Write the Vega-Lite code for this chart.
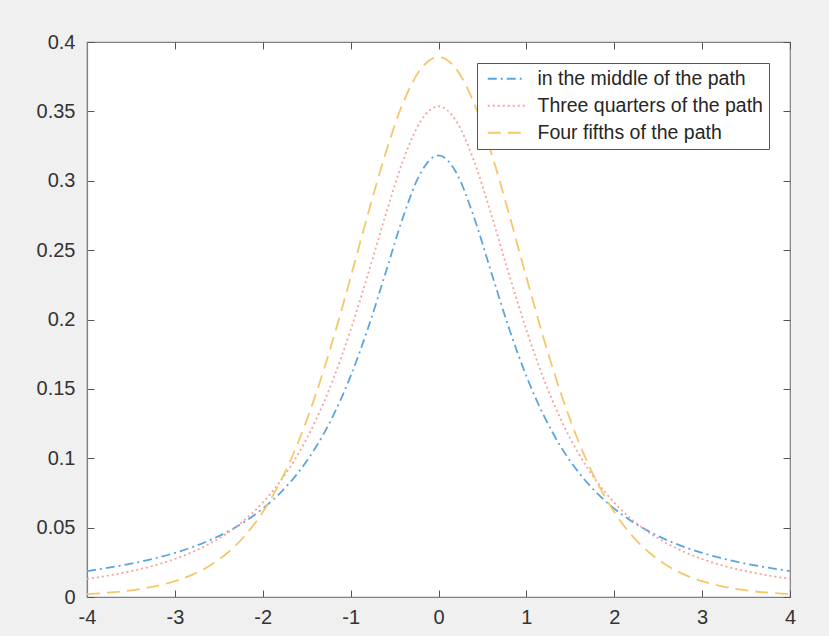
{
  "$schema": "https://vega.github.io/schema/vega-lite/v6.json",
  "width": 703,
  "height": 555,
  "autosize": "none",
  "padding": {"left": 87, "top": 42, "right": 39, "bottom": 39},
  "background": "#f0f0f0",
  "config": {
    "view": {"fill": "white", "stroke": "#808080", "strokeWidth": 1.2},
    "font": "Liberation Sans",
    "axis": {
      "labelFont": "Liberation Sans",
      "labelFontSize": 20,
      "labelColor": "#333333",
      "domainColor": "#808080",
      "domainWidth": 1.2,
      "tickColor": "#555555",
      "tickSize": -7,
      "tickWidth": 1,
      "grid": false,
      "title": null
    }
  },
  "datasets": {
    "curves": [
      {"x": -4.0, "middle": 0.0187, "three": 0.0131, "four": 0.0020},
      {"x": -3.8, "middle": 0.0206, "three": 0.0150, "four": 0.0029},
      {"x": -3.6, "middle": 0.0228, "three": 0.0173, "four": 0.0040},
      {"x": -3.4, "middle": 0.0253, "three": 0.0200, "four": 0.0057},
      {"x": -3.2, "middle": 0.0283, "three": 0.0233, "four": 0.0081},
      {"x": -3.0, "middle": 0.0318, "three": 0.0274, "four": 0.0114},
      {"x": -2.8, "middle": 0.0360, "three": 0.0324, "four": 0.0161},
      {"x": -2.6, "middle": 0.0410, "three": 0.0386, "four": 0.0227},
      {"x": -2.4, "middle": 0.0471, "three": 0.0462, "four": 0.0319},
      {"x": -2.2, "middle": 0.0545, "three": 0.0559, "four": 0.0444},
      {"x": -2.0, "middle": 0.0637, "three": 0.0680, "four": 0.0612},
      {"x": -1.8, "middle": 0.0751, "three": 0.0834, "four": 0.0831},
      {"x": -1.6, "middle": 0.0894, "three": 0.1027, "four": 0.1111},
      {"x": -1.4, "middle": 0.1075, "three": 0.1269, "four": 0.1454},
      {"x": -1.2, "middle": 0.1305, "three": 0.1567, "four": 0.1857},
      {"x": -1.0, "middle": 0.1592, "three": 0.1925, "four": 0.2304},
      {"x": -0.8, "middle": 0.1941, "three": 0.2331, "four": 0.2766},
      {"x": -0.6, "middle": 0.2341, "three": 0.2758, "four": 0.3203},
      {"x": -0.4, "middle": 0.2744, "three": 0.3150, "four": 0.3566},
      {"x": -0.2, "middle": 0.3061, "three": 0.3432, "four": 0.3807},
      {"x": 0.0, "middle": 0.3183, "three": 0.3536, "four": 0.3891},
      {"x": 0.2, "middle": 0.3061, "three": 0.3432, "four": 0.3807},
      {"x": 0.4, "middle": 0.2744, "three": 0.3150, "four": 0.3566},
      {"x": 0.6, "middle": 0.2341, "three": 0.2758, "four": 0.3203},
      {"x": 0.8, "middle": 0.1941, "three": 0.2331, "four": 0.2766},
      {"x": 1.0, "middle": 0.1592, "three": 0.1925, "four": 0.2304},
      {"x": 1.2, "middle": 0.1305, "three": 0.1567, "four": 0.1857},
      {"x": 1.4, "middle": 0.1075, "three": 0.1269, "four": 0.1454},
      {"x": 1.6, "middle": 0.0894, "three": 0.1027, "four": 0.1111},
      {"x": 1.8, "middle": 0.0751, "three": 0.0834, "four": 0.0831},
      {"x": 2.0, "middle": 0.0637, "three": 0.0680, "four": 0.0612},
      {"x": 2.2, "middle": 0.0545, "three": 0.0559, "four": 0.0444},
      {"x": 2.4, "middle": 0.0471, "three": 0.0462, "four": 0.0319},
      {"x": 2.6, "middle": 0.0410, "three": 0.0386, "four": 0.0227},
      {"x": 2.8, "middle": 0.0360, "three": 0.0324, "four": 0.0161},
      {"x": 3.0, "middle": 0.0318, "three": 0.0274, "four": 0.0114},
      {"x": 3.2, "middle": 0.0283, "three": 0.0233, "four": 0.0081},
      {"x": 3.4, "middle": 0.0253, "three": 0.0200, "four": 0.0057},
      {"x": 3.6, "middle": 0.0228, "three": 0.0173, "four": 0.0040},
      {"x": 3.8, "middle": 0.0206, "three": 0.0150, "four": 0.0029},
      {"x": 4.0, "middle": 0.0187, "three": 0.0131, "four": 0.0020}
    ]
  },
  "data": {"name": "curves"},
  "transform": [
    {"fold": ["middle", "three", "four"], "as": ["key", "value"]},
    {"lookup": "key", "from": {"data": {"values": [
      {"key": "middle", "series": "in the middle of the path"},
      {"key": "three", "series": "Three quarters of the path"},
      {"key": "four", "series": "Four fifths of the path"}
    ]}, "key": "key", "fields": ["series"]}}
  ],
  "layer": [
    {
      "mark": {"type": "line", "strokeWidth": 1.8, "interpolate": "monotone", "clip": true},
      "encoding": {
        "x": {"field": "x", "type": "quantitative", "scale": {"domain": [-4, 4], "nice": false, "zero": false},
              "axis": {"orient": "bottom", "values": [-4, -3, -2, -1, 0, 1, 2, 3, 4], "labelPadding": 17, "labelExpr": "replace(format(datum.value, 'd'), '\u2212', '-')", "labelFlush": false}},
        "y": {"field": "value", "type": "quantitative", "scale": {"domain": [0, 0.4], "nice": false},
              "axis": {"orient": "left", "values": [0, 0.05, 0.1, 0.15, 0.2, 0.25, 0.3, 0.35, 0.4], "labelPadding": 19, "format": "~g", "labelFlush": false}},
        "color": {"field": "series", "type": "nominal",
          "scale": {"domain": ["in the middle of the path", "Three quarters of the path", "Four fifths of the path"],
                    "range": ["#5aa5e0", "#f4a39e", "#f5c76a"]},
          "legend": {
            "orient": "none", "legendX": 390, "legendY": 21, "title": null,
            "fillColor": "white", "strokeColor": "#555555", "padding": 6,
            "labelFontSize": 19.5, "labelColor": "#262626", "labelFont": "Liberation Sans", "labelLimit": 0,
            "symbolType": "M-1,0H6.5", "symbolSize": 100, "symbolStrokeWidth": 2, "rowPadding": 6, "labelOffset": 35
          }},
        "strokeDash": {"field": "series", "type": "nominal",
          "scale": {"domain": ["in the middle of the path", "Three quarters of the path", "Four fifths of the path"],
                    "range": [[9, 4, 2, 4], [2, 3], [13, 7]]},
          "legend": null},
        "order": {"field": "x", "type": "quantitative"}
      }
    },
    {
      "mark": {"type": "rule", "opacity": 0},
      "encoding": {
        "x": {"field": "x", "type": "quantitative", "scale": {"domain": [-4, 4], "nice": false, "zero": false},
              "axis": {"orient": "top", "values": [-4, -3, -2, -1, 0, 1, 2, 3, 4], "labels": false, "domain": false}},
        "y": {"field": "value", "type": "quantitative", "scale": {"domain": [0, 0.4], "nice": false},
              "axis": {"orient": "right", "values": [0, 0.05, 0.1, 0.15, 0.2, 0.25, 0.3, 0.35, 0.4], "labels": false, "domain": false}}
      }
    }
  ],
  "resolve": {"axis": {"x": "independent", "y": "independent"}}
}
